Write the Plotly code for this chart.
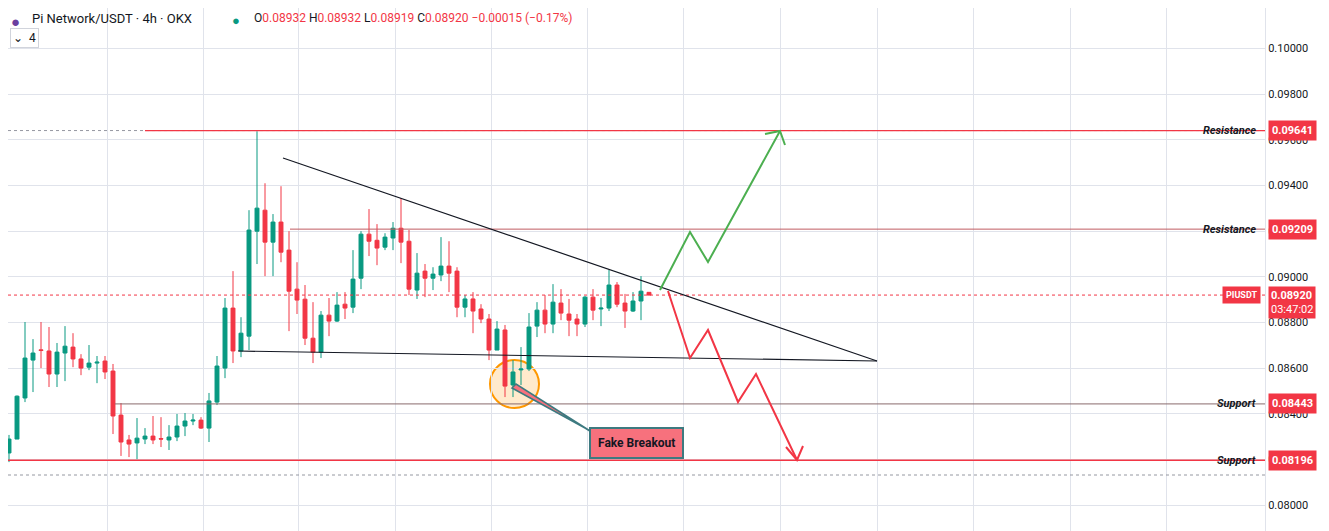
import plotly.graph_objects as go

# 4h candles, PI/USDT
opens = [0.08140, 0.08228, 0.08289, 0.08469, 0.08635, 0.08680, 0.08675, 0.08574, 0.08666, 0.08692,
         0.08640, 0.08604, 0.08622, 0.08631, 0.08587, 0.08394, 0.08285, 0.08272, 0.08289, 0.08302,
         0.08291, 0.08285, 0.08298, 0.08346, 0.08368, 0.08372, 0.08337, 0.08451, 0.08600, 0.08863,
         0.08675, 0.08740, 0.09200, 0.09292, 0.09152, 0.09240, 0.09117, 0.08946, 0.08902, 0.08731,
         0.08670, 0.08832, 0.08806, 0.08880, 0.08867, 0.08994, 0.09187, 0.09160, 0.09130, 0.09170,
         0.09213, 0.09156, 0.08942, 0.09025, 0.08994, 0.09008, 0.09047, 0.09025, 0.08867, 0.08903,
         0.08859, 0.08815, 0.08679, 0.08767, 0.08526, 0.08592, 0.08596, 0.08784, 0.08854, 0.08793,
         0.08885, 0.08837, 0.08815, 0.08793, 0.08911, 0.08859, 0.08863, 0.08964, 0.08885, 0.08850,
         0.08894, 0.08932]
highs = [0.08307, 0.08307, 0.08480, 0.08802, 0.08727, 0.08802, 0.08780, 0.08710, 0.08784, 0.08753,
         0.08661, 0.08701, 0.08653, 0.08653, 0.08618, 0.08447, 0.08307, 0.08381, 0.08337, 0.08390,
         0.08385, 0.08350, 0.08399, 0.08403, 0.08399, 0.08385, 0.08491, 0.08653, 0.08907, 0.09025,
         0.08823, 0.09292, 0.09638, 0.09410, 0.09275, 0.09397, 0.09200, 0.09064, 0.08964, 0.08889,
         0.08850, 0.08907, 0.08933, 0.08933, 0.09117, 0.09200, 0.09297, 0.09231, 0.09191, 0.09240,
         0.09345, 0.09205, 0.09104, 0.09056, 0.09042, 0.09174, 0.09156, 0.09042, 0.08920, 0.08933,
         0.08880, 0.08837, 0.08806, 0.08789, 0.08635, 0.08692, 0.08841, 0.08889, 0.08920, 0.08968,
         0.08946, 0.08903, 0.08837, 0.08916, 0.08946, 0.08907, 0.09030, 0.08977, 0.08925, 0.08933,
         0.09003, 0.08933]
lows = [0.08131, 0.08188, 0.08289, 0.08451, 0.08495, 0.08600, 0.08517, 0.08517, 0.08543, 0.08604,
        0.08569, 0.08591, 0.08534, 0.08552, 0.08311, 0.08215, 0.08210, 0.08201, 0.08267, 0.08267,
        0.08254, 0.08241, 0.08280, 0.08302, 0.08350, 0.08333, 0.08276, 0.08438, 0.08556, 0.08622,
        0.08648, 0.08679, 0.09056, 0.09003, 0.09003, 0.09064, 0.08762, 0.08837, 0.08701, 0.08622,
        0.08644, 0.08740, 0.08802, 0.08815, 0.08841, 0.08946, 0.09091, 0.09051, 0.09117, 0.09117,
        0.09060, 0.08920, 0.08903, 0.08911, 0.08942, 0.08981, 0.08933, 0.08823, 0.08823, 0.08753,
        0.08797, 0.08635, 0.08679, 0.08473, 0.08473, 0.08526, 0.08587, 0.08736, 0.08753, 0.08753,
        0.08810, 0.08740, 0.08740, 0.08780, 0.08810, 0.08784, 0.08850, 0.08867, 0.08776, 0.08846,
        0.08810, 0.08919]
closes = [0.08228, 0.08289, 0.08477, 0.08644, 0.08666, 0.08677, 0.08574, 0.08670, 0.08696, 0.08640,
          0.08600, 0.08622, 0.08626, 0.08583, 0.08390, 0.08276, 0.08267, 0.08293, 0.08302, 0.08285,
          0.08289, 0.08298, 0.08346, 0.08368, 0.08372, 0.08337, 0.08456, 0.08609, 0.08863, 0.08675,
          0.08753, 0.09205, 0.09301, 0.09152, 0.09240, 0.09108, 0.08937, 0.08898, 0.08731, 0.08670,
          0.08832, 0.08806, 0.08876, 0.08863, 0.08990, 0.09187, 0.09156, 0.09126, 0.09174, 0.09213,
          0.09152, 0.08946, 0.09016, 0.08994, 0.09012, 0.09047, 0.09016, 0.08867, 0.08903, 0.08850,
          0.08815, 0.08679, 0.08771, 0.08521, 0.08583, 0.08596, 0.08780, 0.08854, 0.08793, 0.08889,
          0.08841, 0.08810, 0.08793, 0.08911, 0.08854, 0.08863, 0.08964, 0.08880, 0.08850, 0.08894,
          0.08937, 0.08920]
bars = list(range(len(opens)))

levels = [("Resistance", 0.09641), ("Resistance", 0.09209), ("Support", 0.08443), ("Support", 0.08196)]
last_price = 0.08920
price_ticks = [0.080 + 0.002 * i for i in range(12)]

GREEN = "#089981"
RED = "#f23645"
OFF = 8  # the page puts the figure 8px in from the top-left corner


# screen pixel -> chart coords (for the hand-drawn annotations only)
def X(px):
    return (px - 1) / 8


def Y(py):
    return 0.08 + (505 - py) * 0.022 / 502


fig = go.Figure()
fig.add_trace(go.Candlestick(
    x=bars, open=opens, high=highs, low=lows, close=closes,
    increasing=dict(line=dict(color=GREEN, width=1), fillcolor=GREEN),
    decreasing=dict(line=dict(color=RED, width=1), fillcolor=RED),
    whiskerwidth=0, showlegend=False, hoverinfo="skip"))

shapes = []
# dotted guides
shapes.append(dict(type="line", xref="paper", x0=0, x1=1, y0=levels[0][1], y1=levels[0][1],
                   line=dict(color="#9598a1", width=1, dash="dot")))
shapes.append(dict(type="line", xref="paper", x0=0, x1=1, y0=Y(475), y1=Y(475),
                   line=dict(color="#9598a1", width=1, dash="dot")))
shapes.append(dict(type="line", xref="paper", x0=0, x1=1, y0=last_price, y1=last_price,
                   line=dict(color=RED, width=1, dash="dot")))
# horizontal levels
starts = [X(145), X(290), X(115), X(-10)]
widths = [1.3, 1, 1, 1.6]
cols = [RED, "#c05c62", "#8a6b6d", RED]
for (name, v), x0, w, c in zip(levels, starts, widths, cols):
    shapes.append(dict(type="line", x0=x0, x1=X(1266), y0=v, y1=v, line=dict(color=c, width=w)))
# triangle
shapes.append(dict(type="line", x0=X(283), y0=Y(158), x1=X(877), y1=Y(361), line=dict(color="#131722", width=1.2)))
shapes.append(dict(type="line", x0=X(238), y0=Y(351), x1=X(877), y1=Y(361), line=dict(color="#131722", width=1.2)))


def path(pts, close=False):
    return "M " + " L ".join(f"{X(a)},{Y(b)}" for a, b in pts) + (" Z" if close else "")


shapes.append(dict(type="path", path=path([(660, 290), (690, 232), (708, 262), (780, 131)]),
                   line=dict(color="#4caf50", width=2)))
shapes.append(dict(type="path", path=path([(765, 134), (780, 131), (785, 145)]),
                   line=dict(color="#4caf50", width=2)))
shapes.append(dict(type="path", path=path([(668, 291), (690, 358), (708, 330), (738, 402), (756, 374), (797, 460)]),
                   line=dict(color=RED, width=2)))
shapes.append(dict(type="path", path=path([(786, 447), (797, 460), (803, 446)]),
                   line=dict(color=RED, width=2)))
# fake breakout circle + callout
shapes.append(dict(type="circle", x0=X(490), x1=X(539), y0=Y(408), y1=Y(360),
                   line=dict(color="#ff9800", width=2), fillcolor="rgba(255,152,0,0.2)", layer="below"))
shapes.append(dict(type="path", path=path([(512, 388), (585, 428), (598, 436), (516, 384)], close=True),
                   line=dict(color="#3d7a80", width=1.5), fillcolor="#f7717d"))
fig.update_layout(shapes=shapes)

ann = []
ann.append(dict(x=X(636), y=Y(443), text="<b>Fake Breakout</b>", showarrow=False,
                font=dict(size=12, color="#131722", family="Roboto"),
                bgcolor="#f7717d", bordercolor="#3d7a80", borderwidth=2, borderpad=7))
for i, (name, v) in enumerate(levels):
    ann.append(dict(x=X(1258), y=v, text=f"<b><i>{name}</i></b>", showarrow=False, xanchor="right",
                    font=dict(size=11, color="#131722", family="Roboto")))
    ann.append(dict(xref="paper", x=1.002, y=v, text=f"<b>{v:.5f}</b>", showarrow=False, xanchor="left",
                    font=dict(size=11, color="white", family="Roboto"), bgcolor=RED, borderpad=3))
ann.append(dict(xref="paper", x=1.002, y=last_price, yshift=9, text=f"<b>{last_price:.5f}</b><br>03:47:02",
                showarrow=False, xanchor="left", yanchor="top", align="left",
                font=dict(size=11, color="white", family="Roboto"), bgcolor=RED, borderpad=2))
ann.append(dict(xref="paper", x=0.997, y=last_price, text="<b>PIUSDT</b>", showarrow=False, xanchor="right",
                font=dict(size=9, color="white", family="Roboto"), bgcolor=RED, borderpad=3))
ohlc = ("<span style='color:#131722'>O</span>0.08932 <span style='color:#131722'>H</span>0.08932 "
        "<span style='color:#131722'>L</span>0.08919 <span style='color:#131722'>C</span>0.08920 "
        "−0.00015 (−0.17%)")
TOP = Y(OFF + 1)
ann.append(dict(x=X(30), y=TOP, xanchor="left", yanchor="top", text="Pi Network/USDT · 4h · OKX",
                showarrow=False, font=dict(size=13, color="#131722", family="Roboto")))
ann.append(dict(x=X(9), y=TOP, xanchor="left", yanchor="top", text="●", showarrow=False,
                font=dict(size=15, color="#6b3fa0")))
ann.append(dict(x=X(230), y=TOP, xanchor="left", yanchor="top", text="●", showarrow=False,
                font=dict(size=13, color=GREEN)))
ann.append(dict(x=X(252), y=TOP, xanchor="left", yanchor="top", text=ohlc, showarrow=False,
                font=dict(size=12, color=RED, family="Roboto")))
ann.append(dict(x=X(10), y=Y(38), xanchor="left", text="⌄  4", showarrow=False,
                font=dict(size=12, color="#131722", family="Roboto"),
                bordercolor="#d1d4dc", borderwidth=1, borderpad=2))
fig.update_layout(annotations=ann)

fig.update_layout(
    width=1329 - OFF, height=531 - OFF, margin=dict(l=0, r=64, t=0, b=0),
    paper_bgcolor="white", plot_bgcolor="white",
    xaxis=dict(range=[X(OFF), X(1265)], rangeslider=dict(visible=False), showticklabels=False,
               tickvals=[X(p) for p in [107, 203, 298, 395, 491, 587, 683, 780, 877, 973, 1070, 1166]],
               showgrid=True, gridcolor="#e0e3eb", zeroline=False, fixedrange=True),
    yaxis=dict(side="right", range=[Y(531), Y(OFF)], tickvals=price_ticks, tickformat=".5f",
               showgrid=True, gridcolor="#e0e3eb", zeroline=False, ticks="",
               tickfont=dict(size=11, color="#131722", family="Roboto"),
               showline=True, linecolor="#e0e3eb"),
)

fig.write_html("out.html")
